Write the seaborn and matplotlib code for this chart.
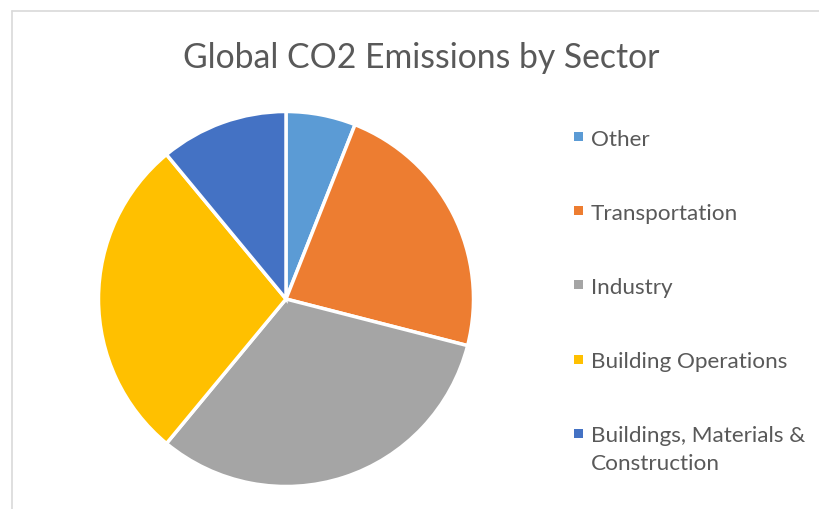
import matplotlib
matplotlib.use("Agg")
import matplotlib.pyplot as plt
from matplotlib.patches import Rectangle
from matplotlib.lines import Line2D
import seaborn as sns

sectors = ["Other", "Transportation", "Industry", "Building Operations",
           "Buildings, Materials &\nConstruction"]
shares = [6, 23, 32, 28, 11]
colors = ["#5B9BD5", "#ED7D31", "#A5A5A5", "#FFC000", "#4472C4"]

sns.set_theme(style="white")
plt.rcParams['font.family'] = ['Lato', 'DejaVu Sans']

W, H = 819, 510
fig = plt.figure(figsize=(W / 100, H / 100), dpi=100)
fig.patch.set_facecolor("white")

# chart border
fig.add_artist(Line2D([11.5 / W, 11.5 / W], [0, 1 - 12 / H], color="#D9D9D9", lw=1.2))
fig.add_artist(Line2D([11.5 / W, 1], [1 - 12 / H, 1 - 12 / H], color="#D9D9D9", lw=1.2))

cx, cy, r = 286, 300, 187.5
ax = fig.add_axes([(cx - r) / W, 1 - (cy + r) / H, 2 * r / W, 2 * r / H])
ax.pie(shares, colors=colors, startangle=90, counterclock=False,
       wedgeprops=dict(edgecolor="white", linewidth=2.5))
ax.set_aspect("equal")
ax.set_xlim(-1, 1)
ax.set_ylim(-1, 1)
ax.axis("off")

fig.text(421 / W, 1 - 68.5 / H, "Global CO2 Emissions by Sector", ha="center", va="baseline",
         fontsize=24.3, color="#595959")

y0, dy = 137.5, 74.2
for i, (lab, col) in enumerate(zip(sectors, colors)):
    y = y0 + i * dy
    fig.add_artist(Rectangle((574 / W, 1 - (y + 4.5) / H), 9 / W, 9 / H,
                             facecolor=col, edgecolor="none", transform=fig.transFigure))
    for j, line in enumerate(lab.split("\n")):
        fig.text(591 / W, 1 - (y + 8 + j * 28) / H, line, ha="left", va="baseline",
                 fontsize=16.2, color="#595959")

fig.savefig("out.png", dpi=100)
